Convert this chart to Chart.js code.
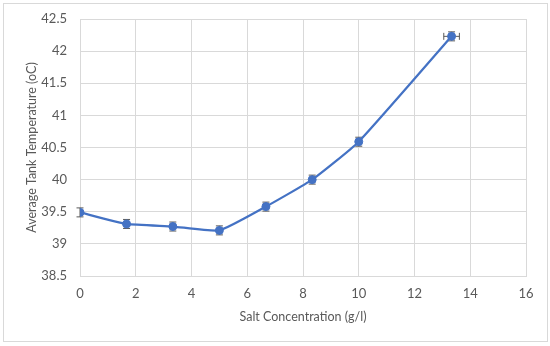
<!DOCTYPE html>
<html>
<head>
<meta charset="utf-8">
<script src="https://cdn.jsdelivr.net/npm/chart.js@4/dist/chart.umd.min.js"></script>
<style>
  html, body { margin: 0; padding: 0; background: #fff; }
  #wrap {
    position: absolute; left: 3px; top: 3px;
    width: 545px; height: 339px;
    border: 1px solid #d9d9d9; box-sizing: border-box;
  }
  #chart { position: absolute; left: 0; top: 0; }
</style>
</head>
<body>
<div id="wrap"><canvas id="chart" width="543" height="337"></canvas></div>
<script>
// Salt concentration (g/l) vs average tank temperature
const saltConc = [0, 1.67, 3.33, 5, 6.67, 8.33, 10, 13.33];
const avgTemp = [39.49, 39.31, 39.27, 39.21, 39.58, 40.0, 40.59, 42.23];
const tempErr = [0.07, 0.07, 0.07, 0.07, 0.07, 0.07, 0.07, 0.07];
const concErr = [0, 0, 0, 0, 0, 0, 0, 0.28];

const blue = "#4472C4";
const grid = "#d9d9d9";
const textCol = "#595959";
const tickFont = { family: "Lato", size: 13 };
const titleFont = { family: "Lato", size: 12.5 };

//Draw error bars using the chart scales
const errorBars = {
    id: "errorBars",
    beforeDatasetsDraw(chart) {
        const ctx = chart.ctx;
        const xs = chart.scales.x;
        const ys = chart.scales.y;
        const cap = 3.5;
        ctx.save();
        ctx.strokeStyle = "#595959";
        ctx.lineWidth = 1;
        saltConc.forEach((c, i) => {
            const px = xs.getPixelForValue(c);
            const py = ys.getPixelForValue(avgTemp[i]);
            if (tempErr[i] > 0) {
                const y1 = ys.getPixelForValue(avgTemp[i] + tempErr[i]);
                const y2 = ys.getPixelForValue(avgTemp[i] - tempErr[i]);
                ctx.beginPath();
                ctx.moveTo(px, y1); ctx.lineTo(px, y2);
                ctx.moveTo(px - cap, y1); ctx.lineTo(px + cap, y1);
                ctx.moveTo(px - cap, y2); ctx.lineTo(px + cap, y2);
                ctx.stroke();
            }
            if (concErr[i] > 0) {
                const x1 = xs.getPixelForValue(c - concErr[i]);
                const x2 = xs.getPixelForValue(c + concErr[i]);
                ctx.beginPath();
                ctx.moveTo(x1, py); ctx.lineTo(x2, py);
                ctx.moveTo(x1, py - cap); ctx.lineTo(x1, py + cap);
                ctx.moveTo(x2, py - cap); ctx.lineTo(x2, py + cap);
                ctx.stroke();
            }
        });
        ctx.restore();
    }
};

const ctx = document.getElementById("chart").getContext("2d");
new Chart(ctx, {
    type: "scatter",
    data: {
        datasets: [{
            data: saltConc.map((c, i) => ({ x: c, y: avgTemp[i] })),
            showLine: true,
            borderColor: blue,
            backgroundColor: blue,
            borderWidth: 2.25,
            pointRadius: 4,
            pointBorderWidth: 1,
            tension: 0.15
        }]
    },
    options: {
        responsive: false,
        animation: false,
        layout: { padding: { top: 15, right: 21, left: 0, bottom: 10 } },
        plugins: {
            legend: { display: false },
            tooltip: { enabled: false }
        },
        scales: {
            x: {
                type: "linear",
                min: 0, max: 16,
                afterFit: (s) => { s.height = 55; },
                ticks: { stepSize: 2, color: textCol, font: tickFont, padding: 10 },
                grid: { color: grid, drawTicks: false },
                border: { color: grid },
                title: { display: true, text: "Salt Concentration (g/l)", color: textCol, font: titleFont, padding: { top: 0, bottom: 7 } }
            },
            y: {
                min: 38.5, max: 42.5,
                afterFit: (s) => { s.width = 76; s.paddingTop = 0; },
                ticks: { stepSize: 0.5, color: textCol, font: tickFont, padding: 13,
                    callback: (v) => String(Math.round(v * 10) / 10) },
                grid: { color: grid, drawTicks: false },
                border: { color: grid },
                title: { display: true, text: "Average Tank Temperature (oC)", color: textCol, font: titleFont, padding: { top: 20, bottom: 0 } }
            }
        }
    },
    plugins: [errorBars]
});
</script>
</body>
</html>
